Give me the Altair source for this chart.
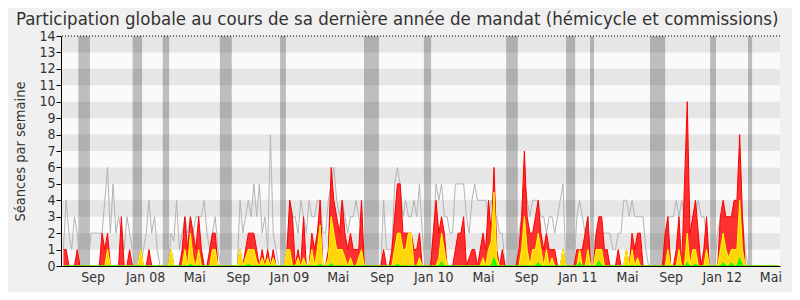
import altair as alt
import pandas as pd

# ---- weekly values (week index 0 = mid-June 2007) ----
presence = [
    1,1,0,0,0,1,0,0,0,0,
    0,0,0,0,2,1,2,0,0,0,
    0,3,0,0,1,0,0,0,1,0,
    0,1,0,0,0,0,0,0,0,1,
    0,0,0,1,3,1,3,2,1,3,
    1,0,0,1,2,2,0,0,0,0,
    0,0,0,0,1,0,1,2,2,2,
    1,0,1,0,1,0,1,0,0,0,
    0,1,4,3,0,1,0,3,0,0,
    2,1,2,4,0,0,1,6,4,3,
    2,4,2,1,2,1,1,1,4,0,
    0,0,0,0,0,0,1,0,0,1,
    3,5,5,2,2,2,2,1,1,2,
    0,0,0,0,2,4,2,3,2,0,
    0,0,1,2,2,3,0,0.5,1,1,
    0,1,2,1,4,2,6,1,0,1,
    0,0,0,0,0,1,3,7,3,2,
    2,3,4,2,1,2,1,1,1,0,
    0,1,0,0,0,0,1,1,1,2,
    3,0,0,2,3,3,1,1,0,0,
    0,1,0,0,1,0,2,1,2,2,
    0,0,0,0,0,0,0,0,2,3,
    0,0,1,3,0,5,10,2,3,4,
    2,0,1,3,0,0,0,0,3,4,
    3,3,3,4,4,8,3,0,0,0,
    0,0,0,0,0,0,0,0,0,0,
]
participation = [
    0,0,0,0,0,0,0,0,0,0,
    0,0,0,0,0,0,1,0,0,0,
    0,0,0,0,0,0,0,0,1,0,
    0,0,0,0,0,0,0,0,0,1,
    0,0,0,0,1,0,2,0.5,0,1,
    0,0,0,0,1,1,0,0,0,0,
    0,0,0,0,1,0,0.5,1,1,1,
    0.3,0,0.5,0,0.5,0,0.5,0,0,0,
    0,1,1,0,0,0.5,0,0.5,0,0,
    1,0,1,2.5,0,0,0.5,3,2,1,
    1,1,0.5,0,0.5,0,0,0.5,1,0,
    0,0,0,0,0,0,0,0,0,0,
    1,2,2,1,1,2,2,0,0,0.5,
    0,0,0,0,0,0,0.5,2,1,0,
    0,0,0,0,0,0,0,0,0,0,
    0,0,0.5,0,1,1.5,4.5,0.5,0,0,
    0,0,0,0,0,0,1,3,1,0,
    1,1,2,1,0,1,0,0.5,0,0,
    0,1,0,0,0,0,0,1,0,0,
    1,0,0,1,1,1,0,0,0,0,
    0,0,0,0,1,0,1,0,0.5,0,
    0,0,0,0,0,0,0,0,0,1,
    0,0,0,1,0,0,2,0,1,1,
    0,0,0,1,0,0,0,0,1,2,
    1,0.5,1,1,1,4,1,0,0,0,
    0,0,0,0,0,0,0,0,0,0,
]
questions = [
    0,0,0,0,0,0,0,0,0,0,
    0,0,0,0,0,0,0,0,0,0,
    0,0,0,0,0,0,0,0,0,0,
    0,0,0,0,0,0,0,0,0,0,
    0,0,0,0,0,0,0.1,0,0,0,
    0,0,0,0,0,0,0,0,0,0,
    0,0,0,0,0,0,0,0.1,0,0,
    0,0,0,0,0,0,0,0,0,0,
    0,0,0,0,0,0,0,0,0,0,
    0,0,0,0.1,0,0,0,0.15,0,0,
    0,0,0,0,0,0,0,0,0,0,
    0,0,0,0,0,0,0,0,0,0,
    0,0.1,0,0,0,0,0,0,0,0,
    0,0,0,0,0,0,0,0.25,0,0,
    0,0,0,0,0,0,0,0,0,0,
    0,0,0,0,0,0,0.5,0,0,0,
    0,0,0,0,0,0,0,0,0,0,
    0,0,0.2,0,0,0,0,0,0,0,
    0,0,0,0,0,0,0,0.2,0,0,
    0,0,0,0,0.3,0,0,0,0,0,
    0,0,0,0,0,0,0,0,0,0,
    0,0,0,0,0,0,0,0,0,0,
    0,0,0,0,0,0,0.2,0,0,0.1,
    0,0,0,0,0,0,0,0,0,0.2,
    0,0,0.2,0,0,0.5,0,0,0,0,
    0,0,0,0,0,0,0,0,0,0,
]
median = [
    1,4,2,1,3,2,0,0,0,0,
    2,2,2,2,2,4,6,2,5,2,
    3,2,1,3,2,1,0,0,0,1,
    2,4,2,3,1,0,0,0,0,2,
    1.5,4,1,2,3,2,3,2,3,3,
    3,4,2,1,2,3,1,0,0,0,
    0,0,0,0,4,2,3,4,3,5,
    3,5,2,3,1,8,2,1,0,0,
    0,1,4,3,3,2,4,3,2,4,
    3,3,4,4,2,2,4,5,6,4,
    3,4,3,2,3,3,4,3,2,0,
    0,0,0,0,0,0,4,1,1,1,
    5,6,5,3,4,3,3,4,3,5,
    2,0,0,0,2,5,4,5,3,3,
    2,2,5,5,5,5,3,2,4,5,
    4,4,4,4,3,4,3,3,2,2,
    0,0,0,0,0,2,3,5,4,3,
    4,4,4,3,3,2,3,3,2,3,
    4,5,0,0,0,0,3,4,3,2,
    3,0,1,2,2,2,2,2,2,1,
    1,2,2,4,4,3,4,3,3,3,
    3,1,0,0,0,0,0,0,1,3,
    3,3,4,3,4,3,3,3,3,3,
    4,3,3,2,0,0,0,2,3,3,
    3,3,3,3,3,3,3,1,0,0,
    0,0,0,0,0,0,0,0,0,0,
]

# holiday periods (week index start / end)
vac_start = [5.4, 25.1, 36.0, 56.7, 78.5, 108.9, 130.6, 160.4, 182.1, 190.8, 212.5, 234.3, 248.0]
vac_end   = [9.6, 28.5, 38.3, 61.0, 80.6, 114.3, 133.2, 164.6, 185.4, 192.2, 218.0, 236.4, 249.5]

# x tick labels
tick_pos = [10.6, 29.6, 47.4, 63.2, 81.7, 99.4, 115.3, 134.0, 152.0, 167.6, 186.2, 204.2, 220.0, 238.5, 256.1]
tick_lab = ["Sep", "Jan 08", "Mai", "Sep", "Jan 09", "Mai", "Sep", "Jan 10", "Mai", "Sep",
            "Jan 11", "Mai", "Sep", "Jan 12", "Mai"]

YMAX = 14
X_DOMAIN = [-0.87, 259.6]

FONT = "'DejaVu Sans Condensed', 'DejaVu Sans', sans-serif"
TXT = "#333333"

df = pd.DataFrame({
    "i": list(range(len(presence))),
    "presence": presence,
    "participation": participation,
    "questions": questions,
    "median": median,
})
vac = pd.DataFrame({"s": vac_start, "e": vac_end})
stripes = pd.DataFrame({"lo": list(range(1, YMAX, 2)), "hi": list(range(2, YMAX + 1, 2))})
top = pd.DataFrame({"t": [YMAX]})

label_expr = "{}[indexof({}, datum.value)]".format(
    "[" + ",".join("'%s'" % s for s in tick_lab) + "]",
    "[" + ",".join(str(v) for v in tick_pos) + "]",
)

xaxis = alt.Axis(values=tick_pos, labelExpr=label_expr, ticks=False, grid=False,
                 domainColor="#000000", domainWidth=1, labelFontSize=14, labelFont=FONT,
                 labelColor=TXT, labelPadding=4, title=None, zindex=1, labelOverlap=False)
yaxis = alt.Axis(values=list(range(0, YMAX + 1)), grid=False, domainColor="#000000",
                 tickColor="#000000", tickSize=5, labelFontSize=14, labelFont=FONT,
                 labelColor=TXT, labelPadding=1, title="Séances par semaine",
                 titleFont=FONT, titleFontSize=14.5, titleFontWeight="normal",
                 titleColor=TXT, titlePadding=11, zindex=1)

xs = alt.Scale(domain=X_DOMAIN, nice=False, zero=False)
ys = alt.Scale(domain=[0, YMAX], nice=False, zero=True)


def X(f):
    return alt.X(f, scale=xs, axis=xaxis)


def Y(f):
    return alt.Y(f, scale=ys, axis=yaxis)


stripe_layer = alt.Chart(stripes).mark_rect(color="#e6e6e6").encode(
    y=Y("lo:Q"), y2="hi:Q")

vac_layer = alt.Chart(vac).mark_rect(color="#000000", opacity=0.24).encode(
    x=X("s:Q"), x2="e:Q")

top_layer = alt.Chart(top).mark_rule(color="#000000", strokeDash=[1, 2], strokeWidth=1).encode(
    y=Y("t:Q"))

median_layer = alt.Chart(df).mark_line(color="#b4b4b4", strokeWidth=1, interpolate="linear").encode(
    x=X("i:Q"), y=Y("median:Q"))


def area(field, color):
    return alt.Chart(df).mark_area(
        color=color, fillOpacity=0.8, interpolate="linear",
        line=alt.OverlayMarkDef(color=color, strokeWidth=1)
    ).encode(x=X("i:Q"), y=Y(field + ":Q"))


chart = alt.layer(
    stripe_layer,
    vac_layer,
    median_layer,
    area("presence", "#ff0000"),
    area("participation", "#ffff00"),
    area("questions", "#00ff00"),
    top_layer,
).properties(
    width=719,
    height=230,
    title=alt.TitleParams(
        "Participation globale au cours de sa dernière année de mandat (hémicycle et commissions)",
        font=FONT, fontSize=18.5, fontWeight="normal", color=TXT, anchor="middle",
        frame="bounds", offset=0, dy=-1),
    autosize=alt.AutoSizeParams(type="none"),
    padding={"left": 53, "top": 28, "right": 12, "bottom": 26},
    background="#f0f0f0",
).configure_view(fill="#fafafa", strokeWidth=0)

chart.save("out.html", embed_options={"renderer": "svg", "actions": False})
